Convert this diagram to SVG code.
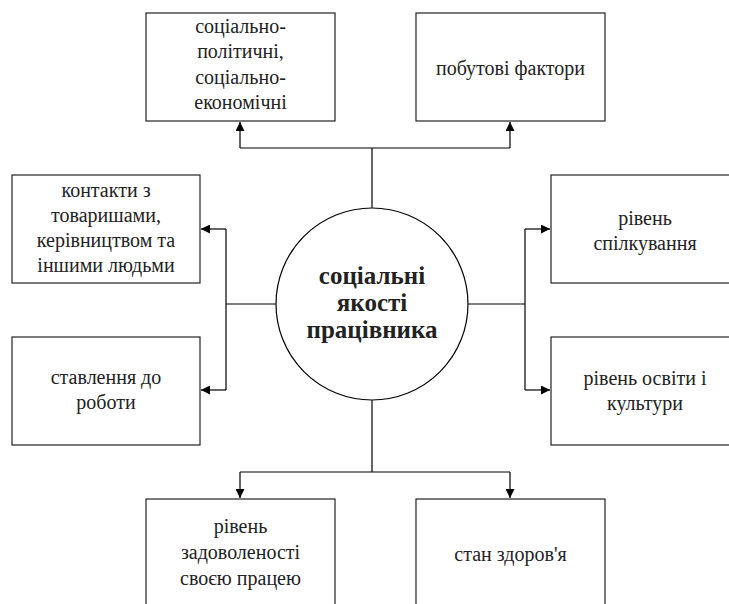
<svg xmlns="http://www.w3.org/2000/svg" width="729" height="604" viewBox="0 0 729 604">
<defs>
<marker id="ah" viewBox="0 0 10 10" refX="10" refY="5" markerWidth="10" markerHeight="9" markerUnits="userSpaceOnUse" orient="auto">
<path d="M0,0 L10,5 L0,10 Z" fill="#000"/>
</marker>
</defs>
<rect width="729" height="604" fill="#fff"/>
<g id="connectors" fill="none" stroke="#000" stroke-width="1.2">
<path d="M372,208 V148"/>
<path d="M240,148 H510"/>
<path d="M240,148 V122" marker-end="url(#ah)"/>
<path d="M510,148 V122" marker-end="url(#ah)"/>
<path d="M276,304 H226"/>
<path d="M226,229 V390"/>
<path d="M226,229 H201" marker-end="url(#ah)"/>
<path d="M226,390 H201" marker-end="url(#ah)"/>
<path d="M468,304 H525"/>
<path d="M525,229 V390"/>
<path d="M525,229 H550" marker-end="url(#ah)"/>
<path d="M525,390 H550" marker-end="url(#ah)"/>
<path d="M372,400 V472"/>
<path d="M240,472 H510"/>
<path d="M240,472 V498" marker-end="url(#ah)"/>
<path d="M510,472 V498" marker-end="url(#ah)"/>
</g>
<g id="center">
<circle cx="372" cy="304" r="96" fill="#fff" stroke="#000" stroke-width="1.2"/>
<text x="372" y="284" style="font-family:'Liberation Serif',serif;font-size:25px;font-weight:bold;fill:#222;text-anchor:middle">соціальні</text>
<text x="372" y="311" style="font-family:'Liberation Serif',serif;font-size:25px;font-weight:bold;fill:#222;text-anchor:middle">якості</text>
<text x="372" y="338" style="font-family:'Liberation Serif',serif;font-size:25px;font-weight:bold;fill:#222;text-anchor:middle">працівника</text>
</g>
<g id="n1">
<rect x="146" y="13" width="189" height="108" fill="#fff" stroke="#222" stroke-width="1.2"/>
<text x="240.5" y="33" style="font-family:'Liberation Serif',serif;font-size:20px;fill:#222;text-anchor:middle">соціально-</text>
<text x="240.5" y="58" style="font-family:'Liberation Serif',serif;font-size:20px;fill:#222;text-anchor:middle">політичні,</text>
<text x="240.5" y="84" style="font-family:'Liberation Serif',serif;font-size:20px;fill:#222;text-anchor:middle">соціально-</text>
<text x="240.5" y="109" style="font-family:'Liberation Serif',serif;font-size:20px;fill:#222;text-anchor:middle">економічні</text>
</g>
<g id="n2">
<rect x="416" y="13" width="189" height="108" fill="#fff" stroke="#222" stroke-width="1.2"/>
<text x="510.5" y="75" style="font-family:'Liberation Serif',serif;font-size:20px;fill:#222;text-anchor:middle">побутові фактори</text>
</g>
<g id="n3">
<rect x="12" y="175" width="188" height="108" fill="#fff" stroke="#222" stroke-width="1.2"/>
<text x="106" y="197" style="font-family:'Liberation Serif',serif;font-size:20px;fill:#222;text-anchor:middle">контакти з</text>
<text x="106" y="222" style="font-family:'Liberation Serif',serif;font-size:20px;fill:#222;text-anchor:middle">товаришами,</text>
<text x="106" y="247" style="font-family:'Liberation Serif',serif;font-size:20px;fill:#222;text-anchor:middle">керівництвом та</text>
<text x="106" y="272" style="font-family:'Liberation Serif',serif;font-size:20px;fill:#222;text-anchor:middle">іншими людьми</text>
</g>
<g id="n4">
<rect x="12" y="337" width="188" height="108" fill="#fff" stroke="#222" stroke-width="1.2"/>
<text x="106" y="384" style="font-family:'Liberation Serif',serif;font-size:20px;fill:#222;text-anchor:middle">ставлення до</text>
<text x="106" y="409" style="font-family:'Liberation Serif',serif;font-size:20px;fill:#222;text-anchor:middle">роботи</text>
</g>
<g id="n5">
<rect x="551" y="175" width="189" height="108" fill="#fff" stroke="#222" stroke-width="1.2"/>
<text x="645" y="225" style="font-family:'Liberation Serif',serif;font-size:20px;fill:#222;text-anchor:middle">рівень</text>
<text x="645" y="250" style="font-family:'Liberation Serif',serif;font-size:20px;fill:#222;text-anchor:middle">спілкування</text>
</g>
<g id="n6">
<rect x="551" y="337" width="189" height="108" fill="#fff" stroke="#222" stroke-width="1.2"/>
<text x="645" y="385" style="font-family:'Liberation Serif',serif;font-size:20px;fill:#222;text-anchor:middle">рівень освіти і</text>
<text x="645" y="410" style="font-family:'Liberation Serif',serif;font-size:20px;fill:#222;text-anchor:middle">культури</text>
</g>
<g id="n7">
<rect x="146" y="499" width="189" height="108" fill="#fff" stroke="#222" stroke-width="1.2"/>
<text x="240.5" y="533" style="font-family:'Liberation Serif',serif;font-size:20px;fill:#222;text-anchor:middle">рівень</text>
<text x="240.5" y="559" style="font-family:'Liberation Serif',serif;font-size:20px;fill:#222;text-anchor:middle">задоволеності</text>
<text x="240.5" y="585" style="font-family:'Liberation Serif',serif;font-size:20px;fill:#222;text-anchor:middle">своєю працею</text>
</g>
<g id="n8">
<rect x="416" y="499" width="189" height="108" fill="#fff" stroke="#222" stroke-width="1.2"/>
<text x="510.5" y="561" style="font-family:'Liberation Serif',serif;font-size:20px;fill:#222;text-anchor:middle">стан здоров'я</text>
</g>
</svg>
